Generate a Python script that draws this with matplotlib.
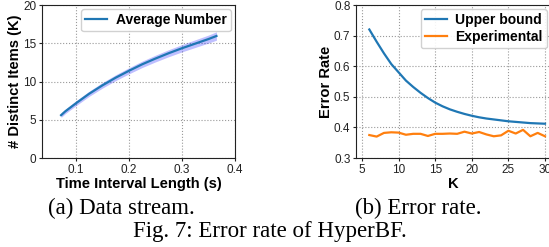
import numpy as np
import matplotlib
matplotlib.use("Agg")
import matplotlib.pyplot as plt

# (a) distinct items vs time interval length
interval_s = [0.072, 0.08, 0.10, 0.125, 0.15, 0.175, 0.20, 0.225, 0.25, 0.275, 0.30, 0.325, 0.35, 0.365]
avg_items_k = [5.6, 6.1, 7.15, 8.4, 9.5, 10.5, 11.4, 12.25, 13.0, 13.7, 14.35, 14.95, 15.55, 15.95]
spread_k = [0.3, 0.3, 0.32, 0.34, 0.36, 0.38, 0.4, 0.42, 0.44, 0.46, 0.48, 0.5, 0.52, 0.55]

# (b) error rate vs K
k_values = list(range(6, 31))
upper_bound = [0.720, 0.680, 0.642, 0.607, 0.580, 0.553, 0.532, 0.513, 0.496, 0.481,
               0.469, 0.459, 0.451, 0.444, 0.438, 0.433, 0.429, 0.426, 0.423, 0.420,
               0.418, 0.416, 0.414, 0.413, 0.412]
experimental = [0.375, 0.370, 0.382, 0.384, 0.383, 0.376, 0.379, 0.379, 0.372, 0.379,
                0.379, 0.380, 0.379, 0.386, 0.380, 0.385, 0.377, 0.371, 0.374, 0.389,
                0.380, 0.392, 0.371, 0.382, 0.371]

plt.rcParams['font.family'] = ['Liberation Sans', 'DejaVu Sans']
plt.rcParams['axes.edgecolor'] = '#222222'
plt.rcParams['xtick.major.size'] = 2.5
plt.rcParams['ytick.major.size'] = 2.5

W, H = 549, 247
fig = plt.figure(figsize=(W / 100, H / 100), dpi=100)

def box(x0, y0, x1, y1):
    return [x0 / W, 1 - y1 / H, (x1 - x0) / W, (y1 - y0) / H]

ax1 = fig.add_axes(box(42, 5, 235, 158))
ax2 = fig.add_axes(box(356, 5, 551, 158))

lab = dict(fontsize=10.6, fontweight='bold')
grid = dict(color='#999999', ls=':', lw=0.8)

lo = np.array(avg_items_k) - np.array(spread_k)
hi = np.array(avg_items_k) + np.array(spread_k)
ax1.fill_between(interval_s, lo, hi, color='blue', alpha=0.25, lw=0)
ax1.plot(interval_s, avg_items_k, color='#1f77b4', lw=1.6, label='Average Number')
ax1.set_xlim(0.036, 0.4)
ax1.set_ylim(0, 20)
ax1.set_xticks([0.1, 0.2, 0.3, 0.4])
ax1.set_yticks([0, 5, 10, 15, 20])
ax1.set_xlabel('Time Interval Length (s)', labelpad=1, **lab)
ax1.set_ylabel('# Distinct Items (K)', labelpad=1, **lab)
ax1.grid(**grid)

ax2.plot(k_values, upper_bound, color='#1f77b4', lw=1.6, label='Upper bound')
ax2.plot(k_values, experimental, color='#ff7f0e', lw=1.6, label='Experimental')
ax2.set_xlim(4.18, 30.82)
ax2.set_ylim(0.3, 0.8)
ax2.set_xticks([5, 10, 15, 20, 25, 30])
ax2.set_yticks([0.3, 0.4, 0.5, 0.6, 0.7, 0.8])
ax2.set_xlabel('K', labelpad=1, **lab)
ax2.set_ylabel('Error Rate', labelpad=1, **lab)
ax2.grid(**grid)

for ax in (ax1, ax2):
    ax.tick_params(labelsize=8.5, pad=1.5, colors='#222222')
    ax.set_axisbelow(True)
    leg = ax.legend(loc='upper right', prop={'weight': 'bold', 'size': 10},
                    handlelength=1.6, borderpad=0.3, labelspacing=0.2,
                    handletextpad=0.6, borderaxespad=0.3, framealpha=0.9)
    leg.get_frame().set_edgecolor('#cccccc')

serif = ['Liberation Serif', 'DejaVu Serif']
fig.text(121 / W, 1 - 214 / H, '(a) Data stream.', ha='center', va='baseline',
         fontsize=16.5, family=serif)
fig.text(418 / W, 1 - 214 / H, '(b) Error rate.', ha='center', va='baseline',
         fontsize=16.5, family=serif)
fig.text(270 / W, 1 - 237 / H, 'Fig. 7: Error rate of HyperBF.', ha='center', va='baseline',
         fontsize=16.5, family=serif)

fig.savefig('out.png', dpi=100)
